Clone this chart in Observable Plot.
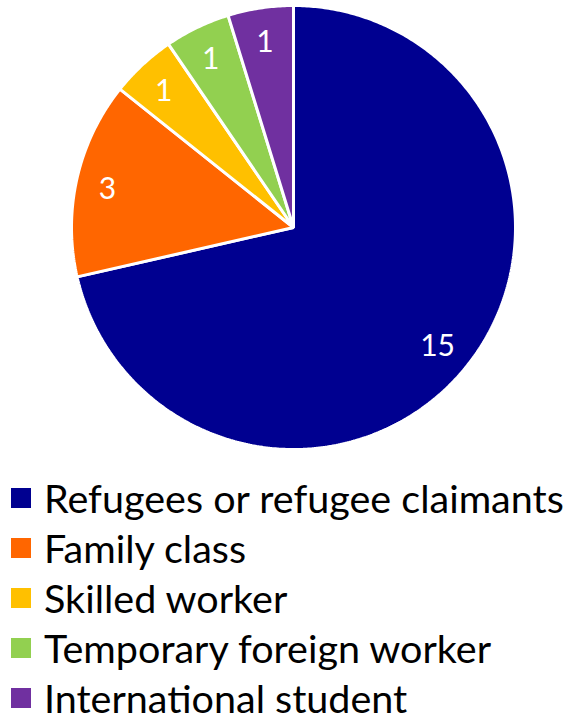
<!DOCTYPE html>
<html>
<head>
<meta charset="utf-8">
<script src="https://cdn.jsdelivr.net/npm/d3@7"></script>
<script src="https://cdn.jsdelivr.net/npm/@observablehq/plot@0.6"></script>
<style>
  html, body { margin: 0; padding: 0; background: #fff; overflow: hidden; }
  #chart svg { display: block; }
  #legend { padding-top: 13px; font-family: Lato, "Open Sans", sans-serif; }
  .row { display: flex; align-items: center; height: 50px; }
  .sw { width: 20px; height: 20px; margin-left: 11px; flex: none; }
  .lab { margin-left: 13px; font-size: 39.5px; line-height: 0.7; color: #000; white-space: nowrap; }
</style>
</head>
<body>
<div id="chart"></div>
<div id="legend"></div>
<script>
const categories = ["Refugees or refugee claimants", "Family class", "Skilled worker", "Temporary foreign worker", "International student"];
const values = [15, 3, 1, 1, 1];
const colors = ["#000090", "#FF6600", "#FFC000", "#92D050", "#7030A0"];

// Slice geometry from d3.pie (angles clockwise from 12 o'clock)
const arcs = d3.pie().sort(null).value(d => d)(values);
const polys = [];
const labels = [];
arcs.forEach((a, i) => {
  const n = Math.max(2, Math.ceil((a.endAngle - a.startAngle) / 0.01));
  polys.push({cat: categories[i], x: 0, y: 0});
  for (let k = 0; k <= n; k++) {
    const t = a.startAngle + (a.endAngle - a.startAngle) * k / n;
    polys.push({cat: categories[i], x: Math.sin(t), y: Math.cos(t)});
  }
  polys.push({cat: categories[i], x: 0, y: 0});
  const m = (a.startAngle + a.endAngle) / 2;
  const r = i === 0 ? 0.83 : 0.86;
  labels.push({cat: categories[i], v: values[i], x: r * Math.sin(m), y: r * Math.cos(m)});
});

const plot = Plot.plot({
  width: 569,
  height: 460,
  marginLeft: 71,
  marginRight: 54,
  marginTop: 5,
  marginBottom: 11,
  x: {domain: [-1, 1], axis: null},
  y: {domain: [-1, 1], axis: null},
  color: {domain: categories, range: colors},
  style: {background: "#fff"},
  marks: [
    Plot.line(polys, {x: "x", y: "y", z: "cat", fill: "cat", stroke: "#fff", strokeWidth: 3, strokeLinejoin: "miter", curve: "linear-closed"}),
    Plot.text(labels, {x: "x", y: "y", text: "v", fill: "#fff", fontSize: 30, dy: 4, fontFamily: "Lato, 'Open Sans', sans-serif"})
  ]
});
document.getElementById("chart").appendChild(plot);

const legend = document.getElementById("legend");
categories.forEach((c, i) => {
  const row = document.createElement("div");
  row.className = "row";
  const sw = document.createElement("div");
  sw.className = "sw";
  sw.style.background = colors[i];
  const lab = document.createElement("div");
  lab.className = "lab";
  lab.textContent = c;
  row.appendChild(sw);
  row.appendChild(lab);
  legend.appendChild(row);
});
</script>
</body>
</html>
